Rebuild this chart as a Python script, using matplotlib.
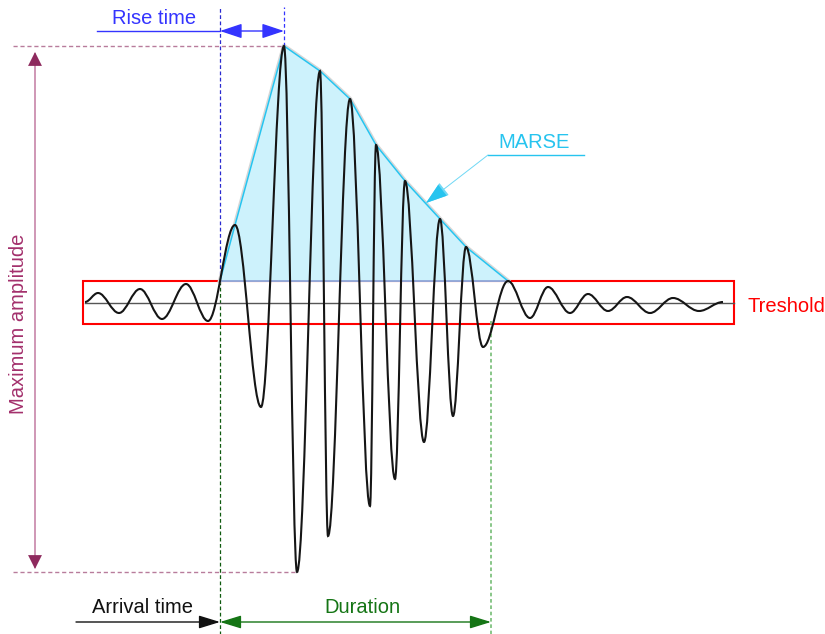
import numpy as np
import matplotlib
matplotlib.use('Agg')
import matplotlib.pyplot as plt
from matplotlib.path import Path
from matplotlib.patches import PathPatch, Rectangle

plt.rcParams['font.family'] = ['Liberation Sans', 'DejaVu Sans']

# Экстремумы сигнала (время, амплитуда)
wave_t = [85, 98, 119, 140, 162, 186, 208, 235, 261, 284, 297, 320, 328, 350,
          370, 376, 395, 405, 424, 440, 453, 466, 483, 508, 530, 548, 570, 588,
          608, 627, 650, 673, 699, 723]
wave_amp = [0.5, 9.5, -10.5, 13.5, -16.5, 18.5, -18.5, 77.5, -104.5, 256.5,
            -269.5, 231.5, -233.5, 203.5, -203.5, 157.5, -176.5, 121.5, -139.5,
            83.5, -113.5, 55.5, -44.5, 21.5, -15.5, 15.5, -10.5, 8.5, -8.5, 5.5,
            -10.5, 4.5, -8.5, 0.5]

threshold = 21.5
arrival_time = 220
peak_time = 284
trough_time = 297
end_time = 491
max_amp = 256.5
min_amp = -269.5
box_start, box_end = 83, 734

fs = 14.5
c_blue = '#3434ff'
c_green = '#157515'
c_cyan = '#27c4ef'
c_maroon = '#a3306c'

fig = plt.figure(figsize=(8.25, 6.34), dpi=100)
ax = fig.add_axes([0, 0, 1, 1])
ax.set_xlim(0, 825)
ax.set_ylim(-331.5, 302.5)
ax.axis('off')

# Огибающая MARSE: пики выше порога после времени прихода
wt = np.array(wave_t)
wa = np.array(wave_amp)
mask = (wt > arrival_time) & (wa >= threshold)
env_t = [arrival_time] + list(wt[mask])
env_a = [threshold] + list(wa[mask])

ax.plot(env_t, env_a, color='#d6d6d6', lw=3.2, zorder=1.5)
ax.fill(env_t, env_a, color='#cdf2fc', zorder=2)
ax.plot(env_t, env_a, color=c_cyan, lw=1.1, zorder=3)

# Пороговая рамка и нулевая линия
ax.add_patch(Rectangle((box_start, -threshold), box_end - box_start, 2 * threshold,
                       fill=False, ec='red', lw=1.5, zorder=1))
ax.plot([arrival_time, env_t[-1]], [threshold, threshold], color='#8fa6d8', lw=1.3, zorder=3)
ax.plot([85, box_end], [0, 0], color='#555555', lw=1, zorder=4)

# Сигнал: кривые Безье через экстремумы
k = 0.36
verts = [(wave_t[0], wave_amp[0])]
codes = [Path.MOVETO]
for i in range(1, len(wave_t)):
    t0, a0 = wave_t[i - 1], wave_amp[i - 1]
    t1, a1 = wave_t[i], wave_amp[i]
    d = (t1 - t0) * k
    verts += [(t0 + d, a0), (t1 - d, a1), (t1, a1)]
    codes += [Path.CURVE4] * 3
ax.add_patch(PathPatch(Path(verts, codes), fill=False, ec='#151515', lw=1.5, zorder=5))

# Вертикальные пунктиры
ax.plot([arrival_time] * 2, [threshold, 296], color='#2a2ad0', ls=(0, (3, 2)), lw=0.9, zorder=0.5)
ax.plot([arrival_time] * 2, [threshold, -331.5], color='#0f5a0f', ls=(0, (3, 2)), lw=0.9, zorder=0.5)
ax.plot([peak_time] * 2, [max_amp, 296], color=c_blue, ls=(0, (3, 2)), lw=0.9)
ax.plot([end_time] * 2, [-18, -331.5], color='#7fc27f', ls=(0, (2, 1.5)), lw=1.3)

# Максимальная амплитуда
ax.plot([13, peak_time], [max_amp] * 2, color='#b87c9c', ls=(0, (3, 2)), lw=1)
ax.plot([13, trough_time], [min_amp] * 2, color='#b87c9c', ls=(0, (3, 2)), lw=1)
ax.plot([35, 35], [max_amp - 8, min_amp + 5], color='#cc8fb0', lw=1.3)
ax.annotate('', xy=(35, max_amp - 6), xytext=(35, max_amp - 30),
            arrowprops=dict(arrowstyle='-|>,head_length=1.0,head_width=0.5',
                            color='#8e2a5e', lw=0, shrinkA=0, shrinkB=0))
ax.annotate('', xy=(35, min_amp + 3), xytext=(35, min_amp + 27),
            arrowprops=dict(arrowstyle='-|>,head_length=1.0,head_width=0.5',
                            color='#8e2a5e', lw=0, shrinkA=0, shrinkB=0))
ax.text(19, -21, 'Maximum amplitude', color=c_maroon, fontsize=fs, rotation=90,
        ha='center', va='center')

# Время нарастания
ax.plot([97, arrival_time], [271.5] * 2, color=c_blue, lw=1)
ax.annotate('', xy=(peak_time, 271.5), xytext=(arrival_time, 271.5),
            arrowprops=dict(arrowstyle='<|-|>,head_length=1.35,head_width=0.45',
                            color=c_blue, lw=1, shrinkA=0, shrinkB=0))
ax.text(154, 284, 'Rise time', color=c_blue, fontsize=fs, ha='center', va='center')

# Время прихода и длительность
ax.annotate('', xy=(arrival_time, -319.5), xytext=(76, -319.5),
            arrowprops=dict(arrowstyle='-|>,head_length=1.3,head_width=0.4',
                            color='#111111', lw=1, shrinkA=0, shrinkB=0))
ax.text(142, -305, 'Arrival time', color='#111111', fontsize=fs, ha='center', va='center')
ax.annotate('', xy=(end_time, -319.5), xytext=(arrival_time, -319.5),
            arrowprops=dict(arrowstyle='<|-|>,head_length=1.3,head_width=0.4',
                            color=c_green, lw=1, shrinkA=0, shrinkB=0))
ax.text(362, -305, 'Duration', color=c_green, fontsize=fs, ha='center', va='center')

# MARSE
ax.plot([488, 584], [147.5] * 2, color=c_cyan, lw=1)
ax.annotate('', xy=(426, 99.5), xytext=(488, 147.5),
            arrowprops=dict(arrowstyle='-|>,head_length=1.5,head_width=0.5',
                            color='#6fd8f5', lw=0.7, shrinkA=0, shrinkB=0))
ax.annotate('', xy=(426, 99.5), xytext=(434, 105.7),
            arrowprops=dict(arrowstyle='-|>,head_length=1.5,head_width=0.5',
                            color=c_cyan, lw=0, shrinkA=0, shrinkB=0))
ax.text(534, 159.5, 'MARSE', color=c_cyan, fontsize=fs, ha='center', va='center')

# Порог
ax.text(748, -3.5, 'Treshold', color='red', fontsize=fs, ha='left', va='center')

fig.savefig('out.png', dpi=100)
